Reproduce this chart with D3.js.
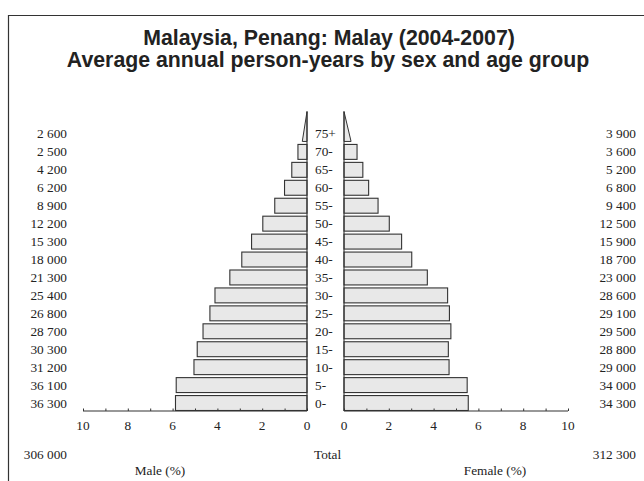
<!DOCTYPE html>
<html><head><meta charset="utf-8">
<script src="https://cdn.jsdelivr.net/npm/d3@7"></script>
<style>body{margin:0;background:#fff}svg{display:block}</style>
</head><body>
<script>
const ageGroups = ["0-","5-","10-","15-","20-","25-","30-","35-","40-","45-","50-","55-","60-","65-","70-","75+"];
const maleCounts = [36300,36100,31200,30300,28700,26800,25400,21300,18000,15300,12200,8900,6200,4200,2500,2600];
const femaleCounts = [34300,34000,29000,28800,29500,29100,28600,23000,18700,15900,12500,9400,6800,5200,3600,3900];
const maleTotal = 306000, femaleTotal = 312300;
const tickValues = [0,2,4,6,8,10];
const fmt = n => d3.format(",")(n).replace(/,/g, " ");
const grand = maleTotal + femaleTotal;
const pctM = maleCounts.map(c => c / grand * 100);
const pctF = femaleCounts.map(c => c / grand * 100);

const W = 644, H = 481;
const svg = d3.select("body").append("svg").attr("width", W).attr("height", H);
const ink = "#222";

// frame
svg.append("line").attr("x1",8).attr("x2",W).attr("y1",15.5).attr("y2",15.5).attr("stroke","#333").attr("stroke-width",1.2);
svg.append("line").attr("x1",8.5).attr("x2",8.5).attr("y1",15).attr("y2",H).attr("stroke","#333").attr("stroke-width",1.2);

// titles
const tt = svg.append("g").attr("font-family","'Liberation Sans', Arial, sans-serif").attr("font-weight","bold").attr("font-size",21.3).attr("fill",ink).attr("text-anchor","middle");
tt.append("text").attr("x",329).attr("y",45).text("Malaysia, Penang: Malay (2004-2007)");
tt.append("text").attr("x",328).attr("y",67).text("Average annual person-years by sex and age group");

const xM = d3.scaleLinear().domain([0,10]).range([307,83]);
const xF = d3.scaleLinear().domain([0,10]).range([344,568]);
const y = d3.scaleBand().domain(ageGroups.slice().reverse()).range([125,412]).padding(0);
const bw = y.bandwidth();
const inset = 1.5;
const axisY = 411;

const serif = "'Liberation Serif', 'Times New Roman', serif";
const fs = 13.3;

function side(x, pcts, counts) {
  const g = svg.append("g");
  ageGroups.forEach((a, i) => {
    const top = y(a) + inset, bot = y(a) + bw - inset;
    if (a === "75+") {
      const apex = bot - 2 * bw + 6;
      g.append("path")
        .attr("d", `M${x(0)},${apex}L${x(pcts[i]/2)},${bot}L${x(0)},${bot}Z`)
        .attr("fill","#e8e8e8").attr("stroke","#333").attr("stroke-width",1);
    } else {
      const x0 = Math.min(x(0), x(pcts[i])), x1 = Math.max(x(0), x(pcts[i]));
      g.append("rect").attr("x",x0).attr("y",top).attr("width",x1-x0).attr("height",bot-top)
        .attr("fill","#e8e8e8").attr("stroke","#333").attr("stroke-width",1.1);
    }
  });
  const apexY = y("75+") + bw - inset - 2 * bw + 6;
  g.append("line").attr("x1",x(0)).attr("x2",x(0)).attr("y1",apexY).attr("y2",axisY).attr("stroke","#333").attr("stroke-width",1.1);
  const ax = svg.append("g").attr("transform",`translate(0,${axisY})`)
    .call(d3.axisTop(x).tickValues(d3.range(0,11)).tickSize(2.5).tickFormat(""));
  ax.select(".domain").attr("stroke","#333").attr("stroke-width",1.1).attr("d",`M${x.range()[0]},0H${x.range()[1]}`);
  ax.selectAll(".tick line").attr("stroke","#333");
  svg.append("g").attr("font-family",serif).attr("font-size",fs).attr("fill",ink).attr("text-anchor","middle")
    .selectAll("text").data(tickValues).join("text")
    .attr("x", d => x(d)).attr("y", axisY + 18.5).text(d => d);
}
side(xM, pctM, maleCounts);
side(xF, pctF, femaleCounts);

const lab = svg.append("g").attr("font-family",serif).attr("font-size",fs).attr("fill",ink);
ageGroups.forEach((a, i) => {
  const cy = y(a) + bw / 2 + 4.5;
  lab.append("text").attr("x",67).attr("y",cy).attr("text-anchor","end").text(fmt(maleCounts[i]));
  lab.append("text").attr("x",636).attr("y",cy).attr("text-anchor","end").text(fmt(femaleCounts[i]));
  lab.append("text").attr("x",315).attr("y",cy).attr("text-anchor","start").text(a);
});
lab.append("text").attr("x",67).attr("y",459).attr("text-anchor","end").text(fmt(maleTotal));
lab.append("text").attr("x",636).attr("y",459).attr("text-anchor","end").text(fmt(femaleTotal));
lab.append("text").attr("x",314).attr("y",459).attr("text-anchor","start").text("Total");
lab.append("text").attr("x",160).attr("y",475).attr("text-anchor","middle").text("Male (%)");
lab.append("text").attr("x",495).attr("y",475).attr("text-anchor","middle").text("Female (%)");
</script>
</body></html>
